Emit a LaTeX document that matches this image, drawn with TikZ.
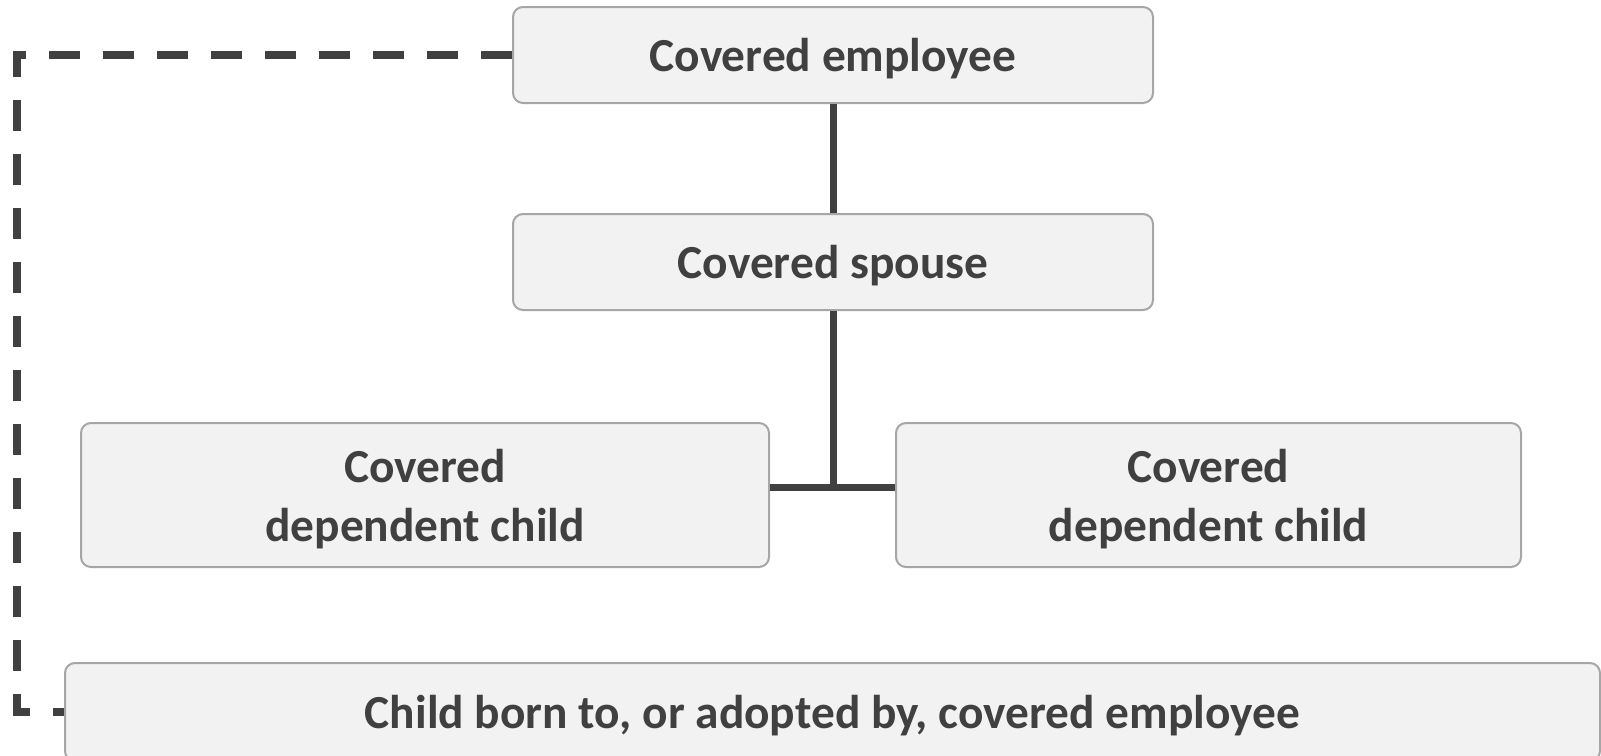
\documentclass[tikz,border=0pt]{standalone}
\usepackage{fontspec}
\setmainfont{Carlito}
\definecolor{textColor}{HTML}{404040}
\definecolor{boxFill}{HTML}{F2F2F2}
\definecolor{boxLine}{HTML}{A6A6A6}

\begin{document}
\begin{tikzpicture}[x=0.5pt, y=-0.5pt,
    box/.style={draw=boxLine, line width=1pt, fill=boxFill, rounded corners=5pt,
        inner sep=0pt, align=center, text=textColor,
        font=\fontsize{23.7}{29.6}\selectfont\bfseries,
        execute at begin node={\rule{0pt}{\dimexpr\fontcharht\font`d+4pt\relax}}},
    twoline/.style={execute at begin node={\rule{0pt}{\dimexpr\fontcharht\font`d+33.6pt\relax}}},
    tree/.style={draw=textColor, line width=3.5pt}]
    \useasboundingbox (0,0) rectangle (1601,755);
    % boxes
    \node[box, minimum width=320pt, minimum height=48pt] (employee) at (833,55) {Covered employee};
    \node[box, minimum width=320pt, minimum height=48pt] (spouse) at (833,262) {Covered spouse};
    \node[box, twoline, minimum width=344pt, minimum height=72pt] (childA) at (425,495) {Covered\\dependent child};
    \node[box, twoline, minimum width=312.5pt, minimum height=72pt] (childB) at (1208.5,495) {Covered\\dependent child};
    \node[box, minimum width=767.5pt, minimum height=49pt] (born) at (832.5,712)
        {Child born to, or adopted by, covered employee};
    % tree lines
    \coordinate (fork) at (833,487);
    \draw[tree] (employee) -- (spouse);
    \draw[tree] (spouse) -- (fork);
    \draw[tree] (childA.east |- fork) -- (childB.west |- fork);
    % dashed link
    \coordinate (loop) at (17,380);
    \draw[textColor, line width=4pt, dash pattern=on 15.5pt off 11.5pt]
        (employee.west) -| (loop) |- (born.west);
\end{tikzpicture}
\end{document}
